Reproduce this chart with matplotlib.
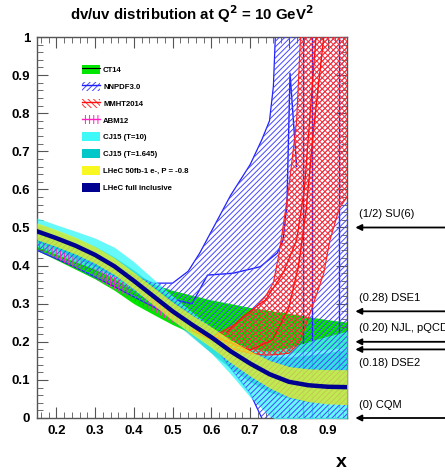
import matplotlib.pyplot as plt
import matplotlib.transforms as mtransforms
from matplotlib.patches import Patch
from matplotlib.lines import Line2D
from matplotlib.ticker import MultipleLocator, FormatStrFormatter
import numpy as np

plt.rcParams["font.family"] = ["Liberation Sans", "DejaVu Sans"]
plt.rcParams["hatch.linewidth"] = 0.7

x = [0.15, 0.2, 0.25, 0.3, 0.35, 0.4, 0.45, 0.5, 0.55, 0.6,
     0.65, 0.7, 0.75, 0.8, 0.85, 0.9, 0.95]

# LHeC full inclusive central curve
lhec = [0.490, 0.472, 0.452, 0.428, 0.398, 0.360, 0.320, 0.280, 0.245, 0.212,
        0.175, 0.143, 0.115, 0.095, 0.086, 0.082, 0.081]
# LHeC 50fb-1 half width
lhec50_err = [0.022, 0.022, 0.022, 0.022, 0.022, 0.022, 0.023, 0.024, 0.025, 0.027,
              0.030, 0.033, 0.036, 0.040, 0.043, 0.045, 0.046]

# CT14
ct14_up = [0.500, 0.478, 0.455, 0.430, 0.405, 0.378, 0.352, 0.335, 0.322, 0.310,
           0.300, 0.290, 0.282, 0.275, 0.266, 0.258, 0.252]
ct14_lo = [0.440, 0.415, 0.390, 0.365, 0.335, 0.300, 0.272, 0.245, 0.222, 0.200,
           0.185, 0.175, 0.170, 0.170, 0.175, 0.180, 0.185]

# CJ15 (T=10)
cj10_up = [0.525, 0.507, 0.490, 0.472, 0.448, 0.410, 0.365, 0.320, 0.278, 0.238,
           0.202, 0.182, 0.176, 0.185, 0.200, 0.215, 0.228]
cj10_lo = [0.450, 0.430, 0.410, 0.390, 0.365, 0.335, 0.300, 0.260, 0.215, 0.170,
           0.115, 0.055, 0.005, -0.02, -0.03, -0.03, -0.03]

# CJ15 (T=1.645)
cj16_up = [0.510, 0.492, 0.472, 0.450, 0.422, 0.388, 0.350, 0.310, 0.272, 0.236,
           0.200, 0.176, 0.162, 0.160, 0.165, 0.172, 0.180]
cj16_lo = [0.462, 0.442, 0.420, 0.398, 0.370, 0.335, 0.295, 0.255, 0.212, 0.170,
           0.130, 0.095, 0.068, 0.052, 0.042, 0.038, 0.036]

# ABM12
abm_x = [0.15, 0.2, 0.25, 0.3, 0.35, 0.4, 0.45, 0.5, 0.55]
abm_up = [0.468, 0.443, 0.420, 0.395, 0.370, 0.340, 0.312, 0.283, 0.255]
abm_lo = [0.445, 0.418, 0.392, 0.365, 0.338, 0.308, 0.280, 0.250, 0.225]

# NNPDF3.0
nn_x = [0.15, 0.2, 0.25, 0.3, 0.35, 0.4, 0.45, 0.5, 0.54, 0.57, 0.6,
        0.65, 0.7, 0.73, 0.75, 0.76, 0.765, 0.77, 0.8, 0.85, 0.9, 0.95]
nn_up = [0.500, 0.475, 0.450, 0.425, 0.400, 0.375, 0.354, 0.354, 0.385, 0.433, 0.490,
         0.585, 0.665, 0.730, 0.780, 0.870, 1.00, 1.10, 1.40, 1.60, 1.60, 1.60]
nn_lo = [0.440, 0.418, 0.395, 0.370, 0.345, 0.318, 0.292, 0.265, 0.245, 0.228, 0.200,
         0.130, 0.065, 0.000, -0.04, -0.06, -0.07, -0.08, -0.20, -0.30, -0.30, -0.30]
nn_mid_x = [0.15, 0.3, 0.45, 0.55, 0.59, 0.656, 0.726, 0.77, 0.785, 0.795, 0.803, 0.803, 0.82, 0.82]
nn_mid_y = [0.470, 0.400, 0.322, 0.300, 0.375, 0.380, 0.397, 0.433, 0.467, 0.560, 0.905, 0.905, 0.66, 0.66]
nn_steps = [([0.837, 0.837], [1.05, 0.0]),
            ([0.860, 0.860], [1.05, 0.0]),
            ([0.930, 0.930], [1.05, 0.030])]

# MMHT2014
mm_x = [0.55, 0.6, 0.615, 0.66, 0.7, 0.74, 0.76, 0.775, 0.8, 0.82, 0.83,
        0.86, 0.89, 0.906, 0.93, 0.95]
mm_up = [0.240, 0.210, 0.220, 0.245, 0.275, 0.320, 0.355, 0.433, 0.606, 0.780, 1.00,
         1.30, 1.40, 1.50, 1.50, 1.50]
mm_lo = [0.230, 0.205, 0.200, 0.180, 0.170, 0.165, 0.166, 0.167, 0.170, 0.190, 0.205,
         0.290, 0.380, 0.467, 0.550, 0.580]
mm_mid_x = [0.6, 0.63, 0.7, 0.758, 0.8, 0.825, 0.845, 0.863, 0.89, 0.95]
mm_mid = [0.215, 0.205, 0.178, 0.205, 0.290, 0.400, 0.550, 0.750, 1.00, 1.40]
mm_in_x = [0.64, 0.68, 0.74, 0.785, 0.82, 0.84, 0.855, 0.87]
mm_in = [0.225, 0.265, 0.310, 0.380, 0.467, 0.600, 0.800, 1.00]

# model predictions of d/u at x -> 1
limits = [0.5, 0.28, 0.20, 0.18, 0.0]
limit_labels = ["(1/2) SU(6)", "(0.28) DSE1", "(0.20) NJL, pQCD", "(0.18) DSE2", "(0) CQM"]
label_above = [True, True, True, False, True]

green = "#00e600"
cyan = "#3ff8f8"
teal = "#00c8c8"
yellow = "#f0f020"
navy = "#000090"

fig = plt.figure(figsize=(4.45, 4.74), dpi=100)
ax = fig.add_axes([37 / 445, 56 / 474, 310 / 445, 381 / 474])

x = np.array(x)
lhec = np.array(lhec)
lhec50_err = np.array(lhec50_err)

ax.fill_between(x, ct14_lo, ct14_up, color=green, lw=0, zorder=1)
ax.plot(nn_x, nn_up, color="#2020ff", lw=0.9, zorder=2)
ax.plot(nn_x, nn_lo, color="#2020ff", lw=0.9, zorder=2)
ax.plot(nn_mid_x, nn_mid_y, color="#2020ff", lw=1.0, zorder=2)
for sx, sy in nn_steps:
    ax.plot(sx, sy, color="#2020ff", lw=1.0, zorder=2)

ax.fill_between(x, cj10_lo, cj10_up, color=cyan, alpha=0.8, lw=0, zorder=4)
ax.fill_between(x, cj16_lo, cj16_up, color=teal, alpha=0.5, lw=0, zorder=5)

ax.fill_between(nn_x, nn_lo, nn_up, facecolor="none", edgecolor="#4646ff",
                hatch="//////", lw=0, zorder=6)
ax.fill_between(mm_x, mm_lo, mm_up, facecolor="none", edgecolor="#ff3030",
                hatch="xxxxxx", lw=0, zorder=6)
ax.plot(mm_x, mm_up, color="#ff2020", lw=0.8, zorder=6)
ax.plot(mm_x, mm_lo, color="#ff2020", lw=0.8, zorder=6)
ax.plot(mm_mid_x, mm_mid, color="#ff1010", lw=1.0, zorder=6)
ax.plot(mm_in_x, mm_in, color="#ff1010", lw=0.9, zorder=6)
ax.fill_between(abm_x, abm_lo, abm_up, facecolor="none", edgecolor="#ff20c0",
                hatch="||||", lw=0, zorder=6)

ax.fill_between(x, lhec - lhec50_err, lhec + lhec50_err, color=yellow,
                alpha=0.75, lw=0, zorder=7)
ax.plot(x, lhec, color=navy, lw=3.2, zorder=8)

ax.set_xlim(0.15, 0.95)
ax.set_ylim(0, 1)
ax.xaxis.set_major_locator(MultipleLocator(0.1))
ax.xaxis.set_minor_locator(MultipleLocator(0.02))
ax.yaxis.set_major_locator(MultipleLocator(0.1))
ax.yaxis.set_minor_locator(MultipleLocator(0.02))
ax.yaxis.set_major_formatter(FormatStrFormatter("%g"))
ax.tick_params(which="both", direction="in", top=True, right=True, color="#555555",
               labelsize=9.5, pad=5)
ax.tick_params(which="major", length=8)
ax.tick_params(which="minor", length=4)
for lab in ax.get_xticklabels() + ax.get_yticklabels():
    lab.set_fontweight("bold")
for sp in ax.spines.values():
    sp.set_color("#555555")
    sp.set_linewidth(1.0)

ax.set_xlabel("x", loc="right", fontsize=14, fontweight="bold", labelpad=12)
fig.text(192 / 445, 1 - 14 / 474, "dv/uv distribution at Q$^\\mathbf{2}$ = 10 GeV$^\\mathbf{2}$",
         ha="center", va="center", fontsize=10.8, fontweight="bold")

# arrows for the x -> 1 predictions
trans = mtransforms.blended_transform_factory(ax.transAxes, ax.transData)
for val, lab, above in zip(limits, limit_labels, label_above):
    ax.annotate("", xy=(1.027, val), xycoords=trans, xytext=(1.32, val),
                textcoords=trans, annotation_clip=False,
                arrowprops=dict(arrowstyle="-|>", color="black", lw=1.3,
                                mutation_scale=9, shrinkA=0, shrinkB=0))
    ax.annotate(lab, xy=(1.04, val), xycoords=trans,
                xytext=(0, 6 if above else -6), textcoords="offset points",
                va="bottom" if above else "top", ha="left", fontsize=8,
                annotation_clip=False)

handles = [
    (Patch(facecolor=green, edgecolor="none"), Line2D([], [], color="black", lw=0.8)),
    (Patch(facecolor="none", edgecolor="#4646ff", hatch="//////", lw=0), Line2D([], [], color="#2020ff", lw=1)),
    (Patch(facecolor="none", edgecolor="#ff3030", hatch="\\\\\\\\\\\\", lw=0), Line2D([], [], color="#ff1010", lw=1)),
    (Patch(facecolor="none", edgecolor="#ff20c0", hatch="||||", lw=0), Line2D([], [], color="#ff20c0", lw=1)),
    Patch(facecolor=cyan, edgecolor="none"),
    Patch(facecolor=teal, edgecolor="none"),
    Patch(facecolor="#f8f820", edgecolor="none"),
    Patch(facecolor=navy, edgecolor="none"),
]
labels = ["CT14", "NNPDF3.0", "MMHT2014", "ABM12", "CJ15 (T=10)",
          "CJ15 (T=1.645)", "LHeC 50fb-1 e-, P = -0.8", "LHeC full inclusive"]
leg = ax.legend(handles, labels, loc="upper left", bbox_to_anchor=(0.133, 0.937),
                frameon=False, prop=dict(size=5.6, weight="bold"),
                handlelength=2.3, handleheight=1.4, labelspacing=1.0,
                handletextpad=0.4, borderpad=0)
leg.set_zorder(10)

fig.savefig("out.png", dpi=100)
